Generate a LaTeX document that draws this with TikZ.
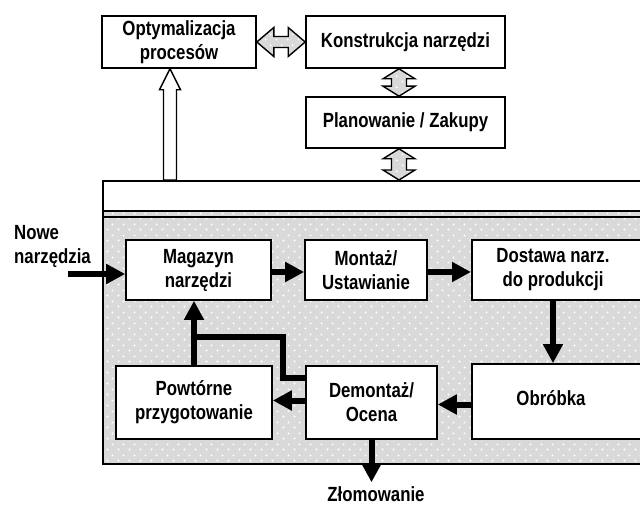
\documentclass[tikz,border=0pt]{standalone}
\usepackage{fontspec}
\setmainfont{Liberation Sans}[FakeStretch=0.82]
\usetikzlibrary{arrows.meta,calc,patterns.meta}
\definecolor{bggray}{gray}{0.85}
\tikzdeclarepattern{
  name=wdots,
  type=uncolored,
  bounding box={(0pt,0pt) and (10.5pt,10.5pt)},
  tile size={(10.5pt,10.5pt)},
  code={\fill (2.625pt,2.625pt) circle (1.1pt); \fill (7.875pt,7.875pt) circle (1.1pt);}
}
\begin{document}
\begin{tikzpicture}[x=1pt,y=-1pt,
  every node/.style={font=\bfseries\fontsize{20.5}{24}\selectfont, inner sep=0pt},
  box/.style={draw, line width=1.6pt, fill=white, align=center},
  plain/.style={align=center},
  dotfill/.style={preaction={fill=bggray}, pattern=wdots, pattern color=white},
  flow/.style={line width=6pt, line join=miter, -{Triangle[length=19pt,width=19pt]}},
  dbl/.style n args={3}{to path={
     (\tikztostart)
     -- ($(\tikztostart)!#1!(\tikztotarget)!#2!90:(\tikztotarget)$)
     -- ($(\tikztostart)!#1!(\tikztotarget)!#3!90:(\tikztotarget)$)
     -- ($(\tikztotarget)!#1!(\tikztostart)!#3!-90:(\tikztostart)$)
     -- ($(\tikztotarget)!#1!(\tikztostart)!#2!-90:(\tikztostart)$)
     -- (\tikztotarget)
     -- ($(\tikztotarget)!#1!(\tikztostart)!#2!90:(\tikztostart)$)
     -- ($(\tikztotarget)!#1!(\tikztostart)!#3!90:(\tikztostart)$)
     -- ($(\tikztostart)!#1!(\tikztotarget)!#3!-90:(\tikztotarget)$)
     -- ($(\tikztostart)!#1!(\tikztotarget)!#2!-90:(\tikztotarget)$)
     -- cycle}},
  sgl/.style n args={3}{to path={
     ($(\tikztostart)!#3!-90:(\tikztotarget)$)
     -- ($(\tikztostart)!#3!90:(\tikztotarget)$)
     -- ($(\tikztotarget)!#1!(\tikztostart)!#3!-90:(\tikztostart)$)
     -- ($(\tikztotarget)!#1!(\tikztostart)!#2!-90:(\tikztostart)$)
     -- (\tikztotarget)
     -- ($(\tikztotarget)!#1!(\tikztostart)!#2!90:(\tikztostart)$)
     -- ($(\tikztotarget)!#1!(\tikztostart)!#3!90:(\tikztostart)$)
     -- cycle}},
  arrline/.style={line width=1.4pt, line join=miter}
]
\useasboundingbox (0,0) rectangle (640,505);

% big frame
\path[dotfill] (102,211) rectangle (650,463);
\node[draw, line width=1.6pt, minimum width=548pt, minimum height=283pt, anchor=north west] (frame) at (102,180) {};
\coordinate (sepA) at (102,211);
\coordinate (sepB) at (102,217);
\draw[line width=2pt] (sepA) -- (sepA -| frame.east);
\draw[line width=1.6pt] (sepB) -- (sepB -| frame.east);

% top boxes
\node[box, minimum width=154pt, minimum height=52pt] (opt) at (179,42) {Optymalizacja\\procesów};
\node[box, minimum width=199pt, minimum height=52pt] (kon) at (405.5,42) {Konstrukcja narzędzi};
\node[box, minimum width=199pt, minimum height=51pt] (plan) at (405.5,122.5) {Planowanie / Zakupy};

% inner boxes
\node[box, minimum width=145pt, minimum height=60pt] (mag) at (198.5,270) {Magazyn\\narzędzi};
\node[box, minimum width=122pt, minimum height=60pt] (mon) at (366,270) {Montaż/\\Ustawianie};
\node[box, minimum width=180pt, minimum height=60pt, anchor=west] (dost) at (471,270) {};
\node[plain] (dostT) at (553,270) {Dostawa narz.\\do produkcji};
\node[box, minimum width=180pt, minimum height=75pt, anchor=west] (obr) at (471,401.5) {};
\node[plain] (obrT) at (551,398) {Obróbka};
\node[box, minimum width=131pt, minimum height=73pt] (dem) at (371.5,402.5) {Demontaż/\\Ocena};
\node[box, minimum width=156pt, minimum height=73pt] (pow) at (194,402.5) {Powtórne\\przygotowanie};

% outside labels
\node[align=left, anchor=west] (nowe) at (14,246.5) {Nowe\\narzędzia};
\node (zlom) at (376,494) {Złomowanie};

% black flow arrows
\coordinate (nw) at (68,274);
\draw[flow] (nw) -- (nw -| mag.west);
\draw[flow] ([yshift=-2pt]mag.east) -- ([yshift=-2pt]mon.west);
\draw[flow] ([yshift=-2pt]mon.east) -- ([yshift=-2pt]dost.west);
\draw[flow] (dostT.center |- dost.south) -- (dostT.center |- obr.north);
\draw[flow] ([yshift=-3pt]obr.west) -- ([yshift=-3pt]obr.west -| dem.east);
\draw[flow] ([yshift=2pt]dem.west) -- ([yshift=2pt]dem.west -| pow.east);
\coordinate (fb1) at (283,378);
\coordinate (fb2) at (283,337);
\coordinate (fb3) at (194,337);
\draw[flow] (fb1 -| dem.west) -- (fb1) -- (fb2) -- (fb3) -- (fb3 |- mag.south);
\draw[line width=6pt] (pow.north) -- (fb3);
\draw[flow, shorten >=4pt] (dem.south) -- (dem.south |- zlom.north);

% top double arrows
\draw[dbl={17pt}{14.5pt}{5.5pt}, dotfill, arrline] (opt.east) to (kon.west);
\coordinate (dx) at (399,0);
\draw[dbl={10pt}{16pt}{7.5pt}, dotfill, arrline] (dx |- kon.south) to (dx |- plan.north);
\draw[dbl={10pt}{16pt}{7.5pt}, dotfill, arrline] (dx |- plan.south) to (dx |- frame.north);
\coordinate (ox) at (170,0);
\draw[sgl={21pt}{10.5pt}{6.5pt}, fill=white, arrline] (ox |- frame.north) to (ox |- opt.south);
\end{tikzpicture}
\end{document}
